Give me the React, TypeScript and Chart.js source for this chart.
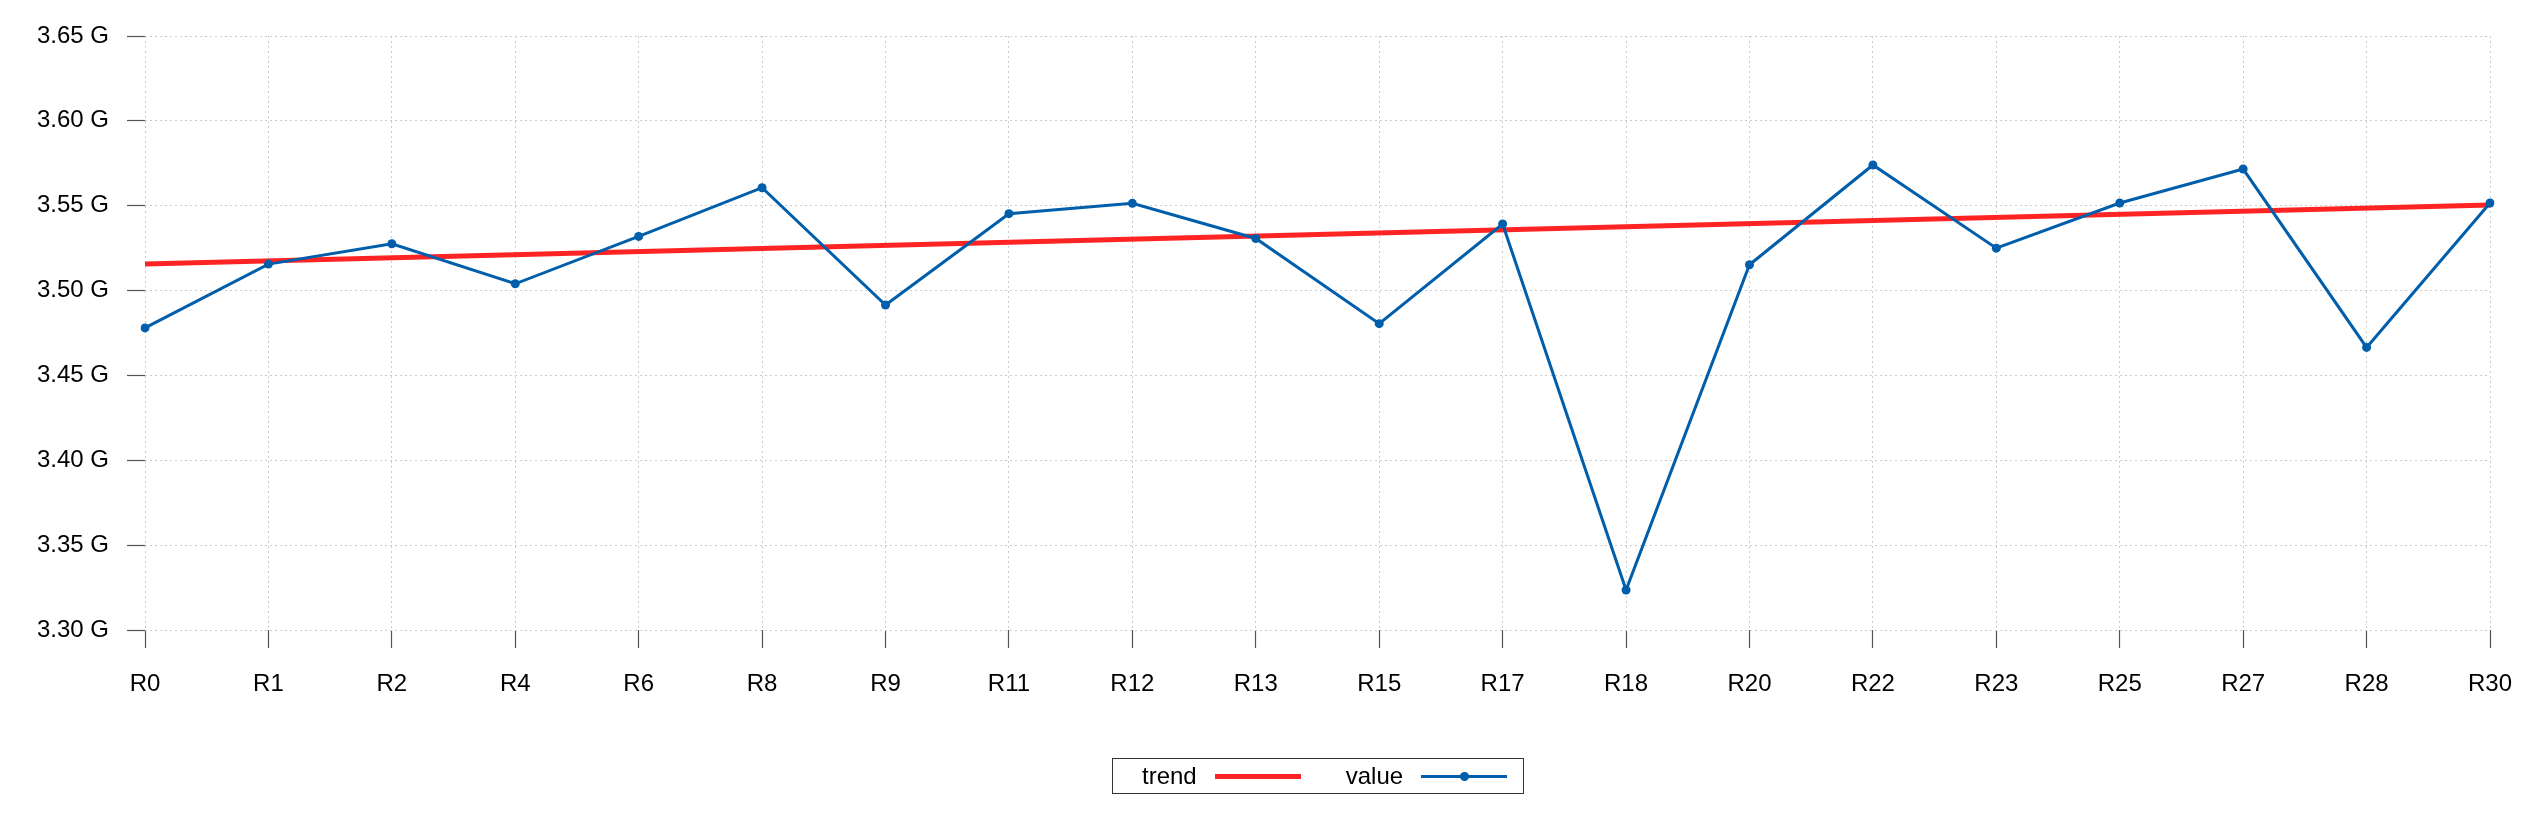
import { useEffect, useRef } from "react"
import { Chart, registerables } from "chart.js"

Chart.register(...registerables)

const categories = [
    "R0", "R1", "R2", "R4", "R6", "R8", "R9", "R11", "R12", "R13",
    "R15", "R17", "R18", "R20", "R22", "R23", "R25", "R27", "R28", "R30"
]

// values in G
const values = [
    3.478, 3.5156, 3.5276, 3.504, 3.5319, 3.5606, 3.4915, 3.5453, 3.5514, 3.5307,
    3.4805, 3.5392, 3.3236, 3.5152, 3.574, 3.525, 3.5516, 3.5716, 3.4665, 3.5516
]

const trend = [
    3.5156, null, null, null, null, null, null, null, null, null,
    null, null, null, null, null, null, null, null, null, 3.5504
]

const yTicks = [3.30, 3.35, 3.40, 3.45, 3.50, 3.55, 3.60, 3.65]

const RED = "#ff2424"
const BLUE = "#005eab"
const FONT = "'Liberation Sans', Arial, sans-serif"

function TrendChart() {
    const canvasRef = useRef<HTMLCanvasElement>(null)

    useEffect(() => {
        document.body.style.margin = "0"
        const tickFont = { family: FONT, size: 24 }

        const chart = new Chart(canvasRef.current, {
            type: "line",
            data: {
                labels: categories,
                datasets: [
                    {
                        label: "value",
                        data: values,
                        borderColor: BLUE,
                        backgroundColor: BLUE,
                        borderWidth: 3,
                        pointRadius: 4.5,
                        pointBorderWidth: 0,
                        tension: 0
                    },
                    {
                        label: "trend",
                        data: trend,
                        borderColor: RED,
                        backgroundColor: RED,
                        borderWidth: 5,
                        pointRadius: 0,
                        spanGaps: true,
                        tension: 0
                    }
                ]
            },
            options: {
                animation: false,
                responsive: false,
                layout: { padding: { left: 0, right: 52, top: 36, bottom: 0 } },
                plugins: {
                    legend: { display: false },
                    tooltip: { enabled: false }
                },
                scales: {
                    x: {
                        type: "category",
                        offset: false,
                        afterFit: (scale) => { scale.height = 183 },
                        border: { display: false, dash: [2, 3] },
                        grid: {
                            color: "#cccccc",
                            lineWidth: 1,
                            tickLength: 18,
                            tickColor: "#555555",
                            tickWidth: 1.2
                        },
                        ticks: {
                            color: "#000",
                            font: tickFont,
                            padding: 22,
                            maxRotation: 0,
                            autoSkip: false
                        }
                    },
                    y: {
                        min: 3.30,
                        max: 3.65,
                        afterFit: (scale) => { scale.width = 145 },
                        afterBuildTicks: (scale) => {
                            scale.ticks = yTicks.map((v) => ({ value: v }))
                        },
                        border: { display: false, dash: [2, 3] },
                        grid: {
                            color: "#cccccc",
                            lineWidth: 1,
                            tickLength: 18,
                            tickColor: "#555555",
                            tickWidth: 1.2
                        },
                        ticks: {
                            color: "#000",
                            font: tickFont,
                            padding: 18,
                            callback: (v) => Number(v).toFixed(2) + " G"
                        }
                    }
                }
            }
        })

        return () => {
            chart.destroy()
        }
    }, [])

    return (
        <div style={{ position: "relative", width: 2542, height: 813, background: "#fff" }}>
            <canvas ref={canvasRef} width={2542} height={813} style={{ display: "block" }}></canvas>

            <div
                style={{
                    position: "absolute",
                    left: 1112,
                    top: 758,
                    width: 412,
                    height: 36,
                    boxSizing: "border-box",
                    border: "1px solid #333",
                    display: "flex",
                    alignItems: "center",
                    fontFamily: FONT,
                    fontSize: 24,
                    color: "#000"
                }}
            >
                <span style={{ marginLeft: 29 }}>trend</span>
                <div style={{ marginLeft: 18, width: 86, height: 5, background: RED }}></div>
                <span style={{ marginLeft: 45 }}>value</span>
                <div style={{ marginLeft: 18, width: 86, height: 3, background: BLUE, position: "relative" }}>
                    <div
                        style={{
                            position: "absolute",
                            left: 38.5,
                            top: -3,
                            width: 9,
                            height: 9,
                            borderRadius: "50%",
                            background: BLUE
                        }}
                    ></div>
                </div>
            </div>
        </div>
    )
}

export default function App() {
    return <TrendChart />
}
